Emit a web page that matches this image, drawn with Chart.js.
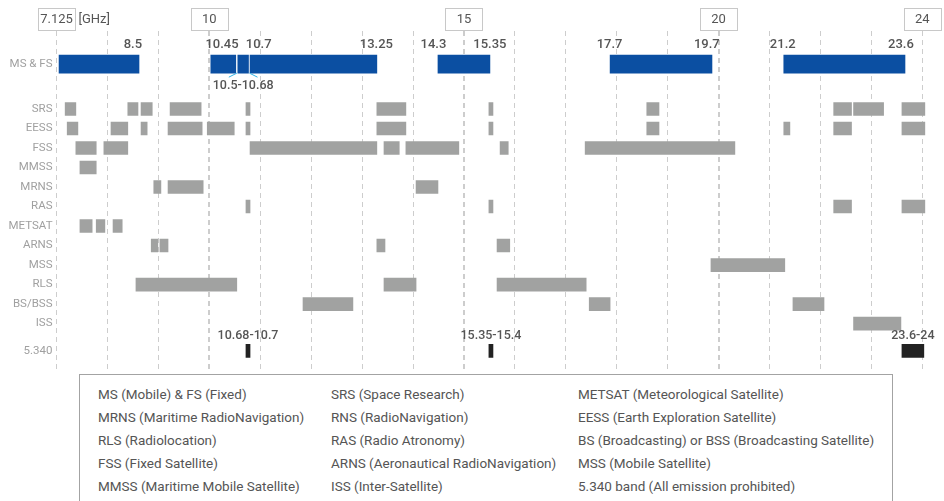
<!DOCTYPE html>
<html>
<head>
<meta charset="utf-8">
<script src="https://cdn.jsdelivr.net/npm/chart.js@4.4.1/dist/chart.umd.min.js"></script>
<style>
    html, body { margin: 0; padding: 0; background: #fff; }
    body { width: 944px; height: 501px; overflow: hidden; position: relative; font-family: Roboto, "Open Sans", sans-serif; }
    #wrap { position: absolute; left: 0; top: 0; width: 944px; height: 372px; }
    #legendBox {
        position: absolute; left: 79px; top: 374px; width: 814px; height: 140px;
        border: 1px solid #a3a3a3; box-sizing: border-box; padding: 8px 0 0 18px;
        display: grid; grid-template-columns: 233px 247px auto; grid-auto-rows: 23px;
        font-size: 13.5px; line-height: 23px; color: #555; white-space: nowrap;
    }
</style>
</head>
<body>
<div id="wrap"><canvas id="chart1"></canvas></div>
<div id="legendBox"></div>
<script>
// Rows (services) from top to bottom
const rowLabels = ["MS & FS", "SRS", "EESS", "FSS", "MMSS", "MRNS", "RAS", "METSAT", "ARNS", "MSS", "RLS", "BS/BSS", "ISS", "5.340"];

// Allocated bands per service, [start, end] in GHz
const msfsBands = [[7.05, 8.62], [10.03, 10.52], [10.56, 10.77], [10.8, 13.29], [14.49, 15.51], [17.87, 19.87], [21.28, 23.66]];
const srsBands = [[7.17, 7.38], [8.4, 8.6], [8.66, 8.88], [9.23, 9.84], [10.72, 10.8], [13.29, 13.86], [15.49, 15.57], [18.59, 18.83], [22.26, 22.61], [22.65, 23.24], [23.6, 24.05]];
const eessBands = [[7.21, 7.42], [8.07, 8.4], [8.66, 8.78], [9.19, 9.86], [9.96, 10.49], [10.72, 10.8], [13.29, 13.86], [15.49, 15.57], [18.59, 18.83], [21.28, 21.4], [22.26, 22.61], [23.6, 24.05]];
const fssBands = [[7.38, 7.78], [7.93, 8.4], [10.8, 13.29], [13.43, 13.73], [13.86, 14.9], [15.71, 15.87], [17.38, 20.32]];
const mmssBands = [[7.46, 7.78]];
const mrnsBands = [[8.91, 9.05], [9.19, 9.88], [14.06, 14.49]];
const rasBands = [[10.72, 10.8], [15.49, 15.57], [22.26, 22.61], [23.6, 24.05]];
const metsatBands = [[7.46, 7.7], [7.78, 7.95], [8.11, 8.29]];
const arnsBands = [[8.86, 8.99], [9.03, 9.19], [13.29, 13.45], [15.65, 15.9]];
const mssBands = [[19.85, 21.3]];
const rlsBands = [[8.56, 10.54], [13.43, 14.06], [15.65, 17.4]];
const bssBands = [[11.84, 12.82], [17.46, 17.87], [21.46, 22.07]];
const issBands = [[22.65, 23.58]];
const prohibitedBands = [[10.72, 10.8], [15.49, 15.57], [23.6, 24.03]];

// Text annotations
const prohibitedLabels = ["10.68-10.7", "15.35-15.4", "23.6-24"];
const msfsEdgeLabels = ["8.5", "10.45", "10.7", "13.25", "14.3", "15.35", "17.7", "19.7", "21.2", "23.6"];
const msfsEdgeAt = [8.5, 10.25, 10.97, 13.28, 14.4, 15.51, 17.86, 19.77, 21.26, 23.58];
const splitLabel = "10.5-10.68";
const headerTicks = [7, 10, 15, 20, 24];
const headerLabels = ["7.125", "10", "15", "20", "24"];
const unitLabel = "[GHz]";

const legendItems = [
    "MS (Mobile) & FS (Fixed)", "SRS (Space Research)", "METSAT (Meteorological Satellite)",
    "MRNS (Maritime RadioNavigation)", "RNS (RadioNavigation)", "EESS (Earth Exploration Satellite)",
    "RLS (Radiolocation)", "RAS (Radio Atronomy)", "BS (Broadcasting) or BSS (Broadcasting Satellite)",
    "FSS (Fixed Satellite)", "ARNS (Aeronautical RadioNavigation)", "MSS (Mobile Satellite)",
    "MMSS (Maritime Mobile Satellite)", "ISS (Inter-Satellite)", "5.340 band (All emission prohibited)"
];

const grayRows = [srsBands, eessBands, fssBands, mmssBands, mrnsBands, rasBands, metsatBands, arnsBands, mssBands, rlsBands, bssBands, issBands];

// vertical slot of each row (MS & FS sits apart at the top, 5.340 a bit lower)
function rowSlot(i) {
    if (i === 0) return 1.7;
    if (i === rowLabels.length - 1) return 16.4;
    return i + 3;
}
const slots = rowLabels.map((r, i) => rowSlot(i));

const FONT = "Roboto, 'Open Sans', sans-serif";

const legendBox = document.getElementById("legendBox");
legendItems.forEach(text => {
    const div = document.createElement("div");
    div.textContent = text;
    legendBox.appendChild(div);
});

const toPoints = (bands, row) => bands.map(b => ({ y: slots[row], x: b }));

const grayData = [];
grayRows.forEach((bands, i) => grayData.push(...toPoints(bands, i + 1)));

const annotations = {
    id: "annotations",
    afterDatasetsDraw(chart) {
        const ctx = chart.ctx;
        const x = chart.scales.x;
        const y = chart.scales.y;
        ctx.save();
        ctx.textBaseline = "middle";

        // row labels
        ctx.textAlign = "right";
        ctx.font = "11.5px " + FONT;
        ctx.fillStyle = "#a0a0a0";
        rowLabels.forEach((t, i) => {
            ctx.fillText(t, chart.chartArea.left - 4, y.getPixelForValue(slots[i]));
        });

        // header boxes
        ctx.textAlign = "center";
        ctx.font = "13px " + FONT;
        headerTicks.forEach((v, i) => {
            const cx = x.getPixelForValue(v);
            ctx.fillStyle = "#fff";
            ctx.fillRect(cx - 18.5, 8, 37, 22);
            ctx.strokeStyle = "#c8c8c8";
            ctx.lineWidth = 1;
            ctx.strokeRect(Math.round(cx - 18.5) + 0.5, 8.5, 37, 22);
            ctx.fillStyle = "#555";
            ctx.fillText(headerLabels[i], cx, 20);
        });
        ctx.textAlign = "left";
        ctx.fillText(unitLabel, x.getPixelForValue(headerTicks[0]) + 22, 20);

        // MS & FS edge labels
        ctx.textAlign = "center";
        ctx.font = "500 13px " + FONT;
        ctx.fillStyle = "#555";
        msfsEdgeLabels.forEach((t, i) => {
            ctx.fillText(t, x.getPixelForValue(msfsEdgeAt[i]), 45);
        });

        // callout for the split band
        const blue = chart.getDatasetMeta(0).data[2];
        const left = Math.min(blue.x, blue.base);
        const right = Math.max(blue.x, blue.base);
        const bottom = blue.y + blue.height / 2;
        ctx.strokeStyle = "#2fb3e6";
        ctx.lineWidth = 1;
        ctx.beginPath();
        ctx.moveTo(left - 1, bottom);
        ctx.lineTo(left - 9, bottom + 4);
        ctx.moveTo(right + 1, bottom);
        ctx.lineTo(right + 9, bottom + 4);
        ctx.stroke();
        ctx.font = "500 12.5px " + FONT;
        ctx.fillStyle = "#555";
        ctx.fillText(splitLabel, (left + right) / 2, bottom + 13);

        // 5.340 labels
        const meta = chart.getDatasetMeta(2);
        meta.data.forEach((bar, i) => {
            const cx = (bar.x + bar.base) / 2;
            ctx.fillText(prohibitedLabels[i], cx, bar.y - bar.height / 2 - 8);
        });
        ctx.restore();
    }
};

const chartCanvas = document.getElementById("chart1");
new Chart(chartCanvas.getContext("2d"), {
    type: "bar",
    data: {
        datasets: [
            {
                label: "MS & FS",
                data: toPoints(msfsBands, 0),
                backgroundColor: "#0b4fa2",
                barThickness: 18,
                grouped: false
            },
            {
                label: "Services",
                data: grayData,
                backgroundColor: "#a1a2a1",
                barThickness: 13,
                grouped: false
            },
            {
                label: "5.340",
                data: toPoints(prohibitedBands, rowLabels.length - 1),
                backgroundColor: "#222222",
                barThickness: 13,
                grouped: false
            }
        ]
    },
    plugins: [annotations],
    options: {
        indexAxis: "y",
        responsive: true,
        maintainAspectRatio: false,
        animation: false,
        layout: { padding: { top: 31, right: 16.6, bottom: 3, left: 56.5 } },
        plugins: {
            legend: { display: false },
            tooltip: { enabled: false },
            title: { display: false }
        },
        scales: {
            x: {
                type: "linear",
                min: 7,
                max: 24.1,
                afterBuildTicks: scale => {
                    const t = [];
                    for (let v = 7; v <= 24; v++) t.push({ value: v });
                    scale.ticks = t;
                },
                afterFit: scale => {
                    scale.height = 0;
                    scale.paddingLeft = 0;
                    scale.paddingRight = 0;
                },
                ticks: { display: false },
                border: { display: false, dash: [5, 4] },
                grid: {
                    drawTicks: false,
                    color: "#cdcdcd",
                    lineWidth: c => ([10, 15, 20].includes(c.tick && c.tick.value) ? 2 : 1)
                }
            },
            y: {
                type: "linear",
                display: false,
                offset: false,
                reverse: true,
                min: 0,
                max: 17.33
            }
        }
    }
});
</script>
</body>
</html>
